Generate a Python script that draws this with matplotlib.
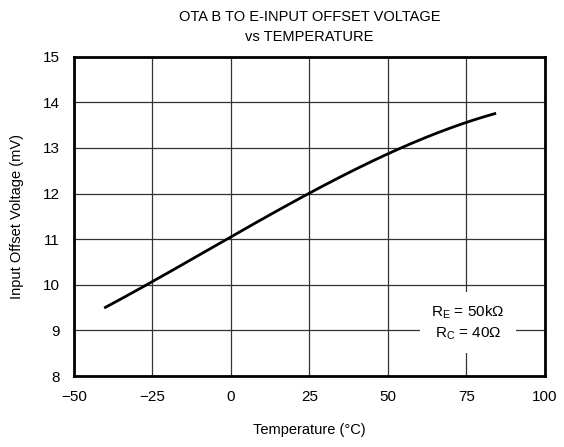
import numpy as np
import matplotlib.pyplot as plt

plt.rcParams['font.family'] = ['Liberation Sans', 'DejaVu Sans']

# curve
temp_c = [-40, -25, 0, 25, 50, 75, 84]
offset_mv = [9.5, 10.08, 11.05, 12.0, 12.88, 13.56, 13.75]

xticks = [-50, -25, 0, 25, 50, 75, 100]
xtick_labels = ['\u221250', '\u221225', '0', '25', '50', '75', '100']
yticks = [8, 9, 10, 11, 12, 13, 14, 15]

# smooth through the read points
coef = np.polyfit(temp_c, offset_mv, 3)
xs = np.linspace(temp_c[0], temp_c[-1], 200)
ys = np.polyval(coef, xs)

fig = plt.figure(figsize=(5.64, 4.47), dpi=100)
ax = fig.add_axes([0.1312, 0.1588, 0.8351, 0.7144])

ax.set_xlim(-50, 100)
ax.set_ylim(8, 15)
ax.set_xticks(xticks)
ax.set_xticklabels(xtick_labels)
ax.set_yticks(yticks)
ax.tick_params(length=0, labelsize=11, pad=10)
ax.grid(True, color='#333333', linewidth=0.9)
ax.set_axisbelow(True)
for s in ax.spines.values():
    s.set_linewidth(2)

ax.plot(xs, ys, color='black', linewidth=2)

ax.text(75.4, 9.17, 'R$_\\mathregular{E}$ = 50k\u03a9\nR$_\\mathregular{C}$ = 40\u03a9',
        ha='center', va='center', fontsize=11, linespacing=1.3,
        bbox=dict(facecolor='white', edgecolor='none', pad=8))

ax.set_xlabel('Temperature (\u00b0C)', fontsize=10.5, labelpad=14)
ax.set_ylabel('Input Offset Voltage (mV)', fontsize=10.5, labelpad=14)
ax.set_title('OTA B TO E-INPUT OFFSET VOLTAGE\nvs TEMPERATURE', fontsize=10.5,
             linespacing=1.6, pad=11)

fig.savefig('out.png', dpi=100)
